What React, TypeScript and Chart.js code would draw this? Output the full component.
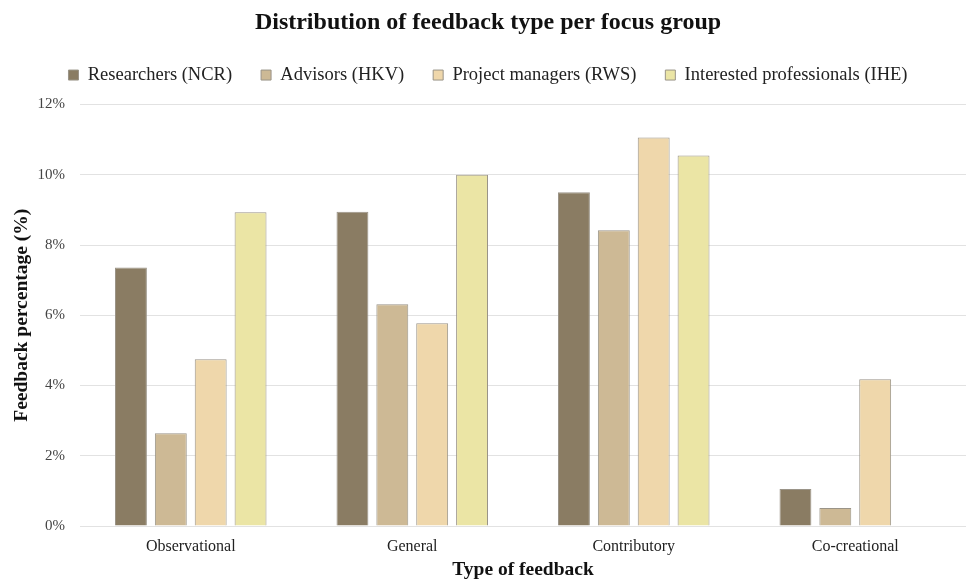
import React, { useEffect, useRef } from "react";
import { Chart, registerables } from "chart.js";

Chart.register(...registerables);

const categories = ["Observational", "General", "Contributory", "Co-creational"];
const seriesNames = [
  "Researchers (NCR)",
  "Advisors (HKV)",
  "Project managers (RWS)",
  "Interested professionals (IHE)",
];
const researchersNCR = [7.36, 8.95, 9.5, 1.05];
const advisorsHKV = [2.64, 6.31, 8.42, 0.51];
const projectManagersRWS = [4.75, 5.77, 11.06, 4.18];
const interestedIHE = [8.93, 10.0, 10.55, 0];
const seriesColors = ["#8a7c63", "#cdb995", "#efd7ab", "#ebe5a5"];

export default function App() {
  const ref = useRef<HTMLCanvasElement | null>(null);
  useEffect(() => {
    document.body.style.margin = "0";
    if (!ref.current) return;
    const values = [researchersNCR, advisorsHKV, projectManagersRWS, interestedIHE];
    const font = "'Liberation Serif', 'Times New Roman', serif";
    const chart = new Chart(ref.current, {
      type: "bar",
      data: {
        labels: categories,
        datasets: values.map((v, i) => ({
          label: seriesNames[i],
          data: v,
          backgroundColor: seriesColors[i],
          borderColor: "#9a9488",
          borderWidth: 1,
          categoryPercentage: 0.72,
          barPercentage: 0.8,
        })),
      },
      options: {
        animation: false,
        responsive: false,
        layout: { padding: { left: 10, right: 0, top: 0, bottom: 0 } },
        plugins: {
          tooltip: { enabled: false },
          title: {
            display: true,
            text: "Distribution of feedback type per focus group",
            color: "#111",
            font: { family: font, size: 24, weight: "bold" },
            padding: { top: 8, bottom: 0 },
          },
          subtitle: {
            display: true,
            text: "",
            weight: 500,
            font: { size: 1 },
            padding: { top: 0, bottom: 9 },
          },
          legend: {
            position: "top",
            labels: {
              color: "#222",
              font: { family: font, size: 18.5 },
              boxWidth: 10,
              boxHeight: 10,
              padding: 29,
            },
          },
        },
        scales: {
          x: {
            grid: { display: false, drawTicks: false },
            border: { display: false },
            ticks: { color: "#222", font: { family: font, size: 16 }, padding: 11 },
            title: {
              display: true,
              text: "Type of feedback",
              color: "#111",
              font: { family: font, size: 19.5, weight: "bold", lineHeight: 1 },
              padding: { top: 5, bottom: 0 },
            },
            afterFit: (scale) => {
              scale.height = 54;
            },
          },
          y: {
            min: 0,
            max: 12,
            grid: { color: "#e2e2e2", drawTicks: false },
            border: { display: false },
            ticks: {
              stepSize: 2,
              color: "#444",
              font: { family: font, size: 15 },
              padding: 15,
              callback: (v) => `${v}%`,
            },
            title: {
              display: true,
              text: "Feedback percentage (%)",
              color: "#111",
              font: { family: font, size: 19.5, weight: "bold" },
              padding: { top: 0, bottom: 5 },
            },
            afterFit: (scale) => {
              scale.width = 70;
            },
          },
        },
      },
    });
    return () => chart.destroy();
  }, []);
  return (
    <div style={{ width: 966, height: 580, background: "#fff" }}>
      <canvas ref={ref} width={966} height={580} />
    </div>
  );
}
